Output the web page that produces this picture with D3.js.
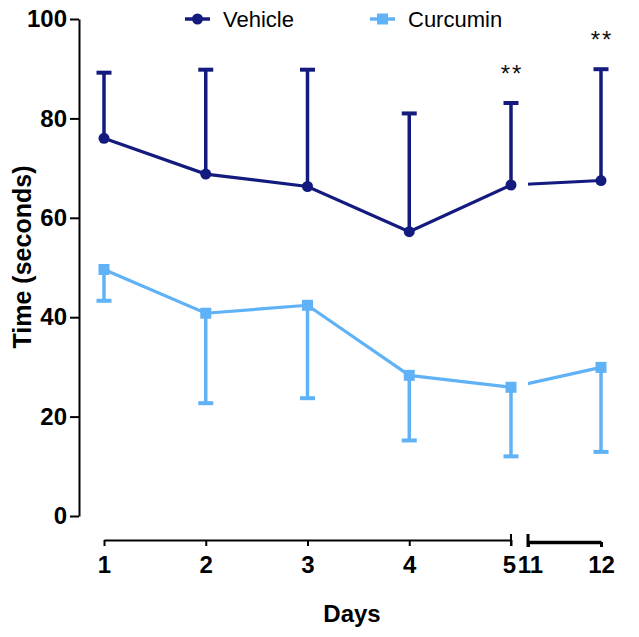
<!DOCTYPE html>
<html>
<head>
<meta charset="utf-8">
<script src="https://cdn.jsdelivr.net/npm/d3@7/dist/d3.min.js"></script>
<style>
  html, body { margin: 0; padding: 0; background: #fff; }
  svg { display: block; font-family: "Liberation Sans", Arial, sans-serif; }
</style>
</head>
<body>
<svg id="chart" width="639" height="637"></svg>
<script>
// ---- data ----
const days = [1, 2, 3, 4, 5, 12];
const vehicleMean = [76.0, 68.8, 66.3, 57.2, 66.6, 67.5];
const vehicleErr  = [13.2, 21.0, 23.5, 23.8, 16.5, 22.4];   // upward SD
const curcuminMean = [49.6, 40.8, 42.4, 28.3, 25.9, 29.9];
const curcuminErr  = [6.3, 18.1, 18.7, 13.1, 13.9, 17.0];   // downward SD
const yTicks = [0, 20, 40, 60, 80, 100];
const xTicksA = [1, 2, 3, 4, 5];
const xTicksB = [11, 12];
const sigDays = [5, 12];
const sigLabels = ["**", "**"];
const seriesNames = ["Vehicle", "Curcumin"];

const colVehicle = "#141b7e";
const colCurcumin = "#60b2f6";

const svg = d3.select("#chart");

// ---- scales ----
const x = d3.scaleLinear().domain([1, 5, 11, 12]).range([104, 511, 528, 601]);
const y = d3.scaleLinear().domain([0, 100]).range([516, 19]);

// ---- y axis ----
const yAxis = svg.append("g")
  .attr("transform", "translate(79,0)")
  .call(d3.axisLeft(y).tickValues(yTicks).tickFormat(d3.format("d")).tickSizeInner(9).tickSizeOuter(0).tickPadding(3));
yAxis.select(".domain").attr("stroke", "#000").attr("stroke-width", 2);
yAxis.selectAll(".tick line").attr("stroke", "#000").attr("stroke-width", 2);
yAxis.selectAll(".tick text")
  .attr("font-size", 24).attr("font-weight", "bold").attr("fill", "#000")
  .attr("font-family", "'Liberation Sans', Arial, sans-serif");

// ---- x axis (broken) ----
const xa = d3.scaleLinear().domain([1, 5]).range([x(1), x(5)]);
const xb = d3.scaleLinear().domain([11, 12]).range([x(11), x(12)]);
const axY = 540;
const gA = svg.append("g").attr("transform", `translate(0,${axY})`)
  .call(d3.axisBottom(xa).tickValues(xTicksA).tickFormat(d3.format("d")).tickSizeInner(6).tickSizeOuter(0).tickPadding(10));
gA.select(".domain").attr("stroke", "#000").attr("stroke-width", 2);
gA.selectAll(".tick line").attr("stroke", "#000").attr("stroke-width", 2);
const gB = svg.append("g").attr("transform", `translate(0,${axY + 2})`)
  .call(d3.axisBottom(xb).tickValues(xTicksB).tickFormat(d3.format("d")).tickSizeInner(5).tickSizeOuter(0).tickPadding(9));
gB.select(".domain").attr("stroke", "#000").attr("stroke-width", 3.5);
gB.selectAll(".tick line").attr("stroke", "#000").attr("stroke-width", 3);
// end caps at the break
svg.append("line").attr("x1", x(5)).attr("x2", x(5)).attr("y1", axY - 6).attr("y2", axY + 6)
  .attr("stroke", "#000").attr("stroke-width", 2);
svg.append("line").attr("x1", x(11)).attr("x2", x(11)).attr("y1", axY - 6).attr("y2", axY + 7)
  .attr("stroke", "#000").attr("stroke-width", 3);
[gA, gB].forEach(g => g.selectAll(".tick text")
  .attr("font-size", 24).attr("font-weight", "bold").attr("fill", "#000")
  .attr("font-family", "'Liberation Sans', Arial, sans-serif"));
gA.selectAll(".tick text").filter(d => d === 5).attr("dx", -2);
gB.selectAll(".tick text").filter(d => d === 11).attr("dx", 2);

// ---- axis titles ----
svg.append("text").attr("x", 352).attr("y", 622).attr("text-anchor", "middle")
  .attr("font-size", 24).attr("font-weight", "bold").text("Days");
svg.append("text").attr("transform", "translate(31,257) rotate(-90)").attr("text-anchor", "middle")
  .attr("font-size", 25).attr("font-weight", "bold").text("Time (seconds)");

// ---- clip for the axis gap ----
const defs = svg.append("defs");
const clip = defs.append("clipPath").attr("id", "gapclip");
clip.append("rect").attr("x", 0).attr("y", 0).attr("width", x(5) + 3).attr("height", 637);
clip.append("rect").attr("x", x(11)).attr("y", 0).attr("width", 639 - x(11)).attr("height", 637);

const line = d3.line().x(d => x(d[0])).y(d => y(d[1]));

function drawSeries(means, errs, dir, col, marker) {
  const pts = days.map((d, i) => [d, means[i]]);
  const g = svg.append("g");
  // error bars
  days.forEach((d, i) => {
    const yEnd = means[i] + dir * errs[i];
    g.append("line").attr("x1", x(d)).attr("x2", x(d)).attr("y1", y(means[i])).attr("y2", y(yEnd))
      .attr("stroke", col).attr("stroke-width", 3.5);
    g.append("line").attr("x1", x(d) - 7.5).attr("x2", x(d) + 7.5).attr("y1", y(yEnd)).attr("y2", y(yEnd))
      .attr("stroke", col).attr("stroke-width", 4);
  });
  g.append("path").datum(pts).attr("d", line).attr("fill", "none")
    .attr("stroke", col).attr("stroke-width", 3.2).attr("clip-path", "url(#gapclip)");
  pts.forEach(p => {
    if (marker === "circle") {
      g.append("circle").attr("cx", x(p[0])).attr("cy", y(p[1])).attr("r", 5.5).attr("fill", col);
    } else {
      g.append("rect").attr("x", x(p[0]) - 5.5).attr("y", y(p[1]) - 5.5)
        .attr("width", 11).attr("height", 11).attr("fill", col);
    }
  });
}
drawSeries(vehicleMean, vehicleErr, 1, colVehicle, "circle");
drawSeries(curcuminMean, curcuminErr, -1, colCurcumin, "square");

// ---- significance ----
sigDays.forEach((d, i) => {
  const idx = days.indexOf(d);
  const top = y(vehicleMean[idx] + vehicleErr[idx]);
  svg.append("text").attr("x", x(d) + 1).attr("y", top - 21)
    .attr("text-anchor", "middle").attr("font-size", 24).attr("fill", "#111")
    .attr("letter-spacing", 2).text(sigLabels[i]);
});

// ---- legend ----
const legend = [
  { name: seriesNames[0], col: colVehicle, marker: "circle", x0: 185 },
  { name: seriesNames[1], col: colCurcumin, marker: "square", x0: 370 }
];
legend.forEach(l => {
  const g = svg.append("g");
  g.append("line").attr("x1", l.x0).attr("x2", l.x0 + 25).attr("y1", 19).attr("y2", 19)
    .attr("stroke", l.col).attr("stroke-width", 3.5);
  if (l.marker === "circle") {
    g.append("circle").attr("cx", l.x0 + 12.5).attr("cy", 19).attr("r", 5.5).attr("fill", l.col);
  } else {
    g.append("rect").attr("x", l.x0 + 7).attr("y", 13.5).attr("width", 11).attr("height", 11).attr("fill", l.col);
  }
  g.append("text").attr("x", l.x0 + 38).attr("y", 26.5).attr("font-size", 22).attr("fill", "#000").text(l.name);
});
</script>
</body>
</html>
